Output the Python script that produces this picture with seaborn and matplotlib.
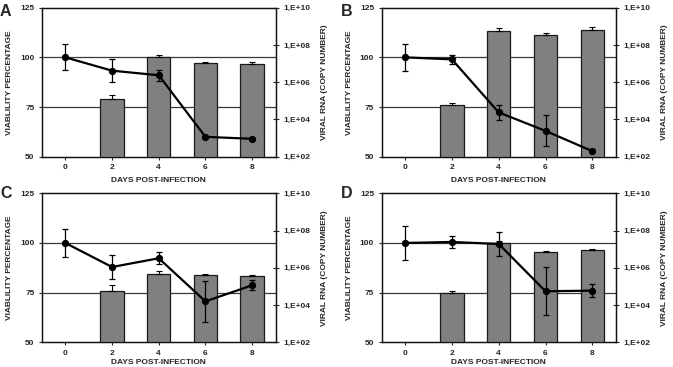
import numpy as np
import pandas as pd
import matplotlib
matplotlib.use("Agg")
import matplotlib.pyplot as plt
import seaborn as sns
from matplotlib.ticker import FixedLocator, FuncFormatter, NullLocator

# ---------------- data ----------------
days = [0, 2, 4, 6, 8]
day_labels = [str(d) for d in days]
panel_names = ["A", "B", "C", "D"]

# viability percentage (line, left axis) and SD
viab_A = [100, 93.3, 91.0, 60.0, 59.0]
viab_A_sd = [6.5, 5.8, 2.8, 0.6, 0.4]
viab_B = [100, 99.0, 72.3, 63.0, 52.8]
viab_B_sd = [6.9, 2.1, 3.6, 7.8, 0.5]
viab_C = [100, 87.9, 92.3, 70.6, 78.7]
viab_C_sd = [6.9, 6.0, 3.1, 10.2, 2.5]
viab_D = [100, 100.5, 99.5, 75.7, 76.0]
viab_D_sd = [8.5, 3.0, 6.0, 12.1, 3.2]

# viral RNA copy number (bars, right log axis) and upper error
rna_A = [np.nan, 1.33e5, 2.15e7, 1.08e7, 9.6e6]
rna_A_err = [np.nan, 8.0e4, 6.0e6, 1.8e6, 3.0e6]
rna_B = [np.nan, 5.9e4, 5.9e8, 3.46e8, 6.7e8]
rna_B_err = [np.nan, 1.3e4, 2.0e8, 1.2e8, 2.3e8]
rna_C = [np.nan, 5.9e4, 4.45e5, 4.34e5, 3.66e5]
rna_C_err = [np.nan, 5.6e4, 2.3e5, 2.0e4, 4.7e4]
rna_D = [np.nan, 4.64e4, 2.15e7, 6.8e6, 8.7e6]
rna_D_err = [np.nan, 1.3e4, 6.0e6, 9.0e5, 1.6e6]

left_ticks = [50, 75, 100, 125]
right_ticks = [1e2, 1e4, 1e6, 1e8, 1e10]
ylabel_left = "VIABLILITY PERCENTAGE"
ylabel_right = "VIRAL RNA (COPY NUMBER)"
xlabel = "DAYS POST-INFECTION"

panels = {
    "A": (viab_A, viab_A_sd, rna_A, rna_A_err),
    "B": (viab_B, viab_B_sd, rna_B, rna_B_err),
    "C": (viab_C, viab_C_sd, rna_C, rna_C_err),
    "D": (viab_D, viab_D_sd, rna_D, rna_D_err),
}

# ---------------- style ----------------
sns.set_style("ticks")
plt.rcParams["font.family"] = ["Liberation Sans", "DejaVu Sans"]
plt.rcParams["font.weight"] = "bold"
plt.rcParams["axes.labelweight"] = "bold"
FS = 6.0

W, H = 673, 367
fig = plt.figure(figsize=(W / 100, H / 100), dpi=100)
boxes = {
    "A": (42.0, 7.7, 275.5, 156.7),
    "B": (381.7, 7.7, 615.7, 156.7),
    "C": (42.0, 193.3, 275.5, 342.3),
    "D": (381.7, 193.3, 615.7, 342.3),
}
xlabel_pad = {"A": 4, "B": 4, "C": 1.5, "D": 1.5}
letter_pos = {"A": (0.0, 4.0), "B": (341.0, 4.0), "C": (0.0, 186.0), "D": (341.0, 186.0)}

positions = np.arange(len(days))
fmt_log = FuncFormatter(lambda v, p: "1,E+%02d" % int(round(np.log10(v))))

for name in panel_names:
    viab, viab_sd, rna, rna_err = panels[name]
    l, t, r, b = boxes[name]
    axL = fig.add_axes([l / W, 1 - b / H, (r - l) / W, (b - t) / H])
    axL.set_zorder(0)
    axL.set_ylim(left_ticks[0], left_ticks[-1])
    axL.set_yticks(left_ticks)
    for v in left_ticks[1:-1]:
        axL.axhline(v, color="#3a3a3a", lw=0.9, zorder=1)

    # bars on log axis
    axR = axL.twinx()
    axR.set_yscale("log")
    axR.set_ylim(right_ticks[0], right_ticks[-1])
    df = pd.DataFrame({"day": day_labels, "rna": rna, "err": rna_err}).dropna()
    sns.barplot(data=df, x="day", y="rna", order=day_labels, ax=axR,
                color="#808080", edgecolor="#1a1a1a", linewidth=0.9,
                width=0.5, errorbar=None, saturation=1)
    bar_pos = [day_labels.index(d) for d in df["day"]]
    axR.errorbar(bar_pos, df["rna"], yerr=[np.zeros(len(df)), df["err"]],
                 fmt="none", ecolor="black", elinewidth=0.8, capsize=2, capthick=0.8)
    axR.yaxis.set_major_locator(FixedLocator(right_ticks))
    axR.yaxis.set_minor_locator(NullLocator())
    axR.yaxis.set_major_formatter(fmt_log)
    axR.set_ylim(right_ticks[0], right_ticks[-1])
    axR.set_ylabel(ylabel_right, fontsize=FS, fontweight="bold", labelpad=8)
    axR.set_xlabel("")
    axR.tick_params(axis="y", direction="inout", length=4, width=0.8,
                    labelsize=FS, pad=3.5)

    # line on top
    axP = axL.twinx()
    axP.set_ylim(left_ticks[0], left_ticks[-1])
    axP.errorbar(positions, viab, yerr=viab_sd, fmt="none", ecolor="black",
                 elinewidth=0.9, capsize=2, capthick=0.9)
    sns.lineplot(x=positions, y=viab, ax=axP, color="black", marker="o",
                 markersize=4.5, markeredgecolor="black", linewidth=1.6)
    axP.axis("off")

    axL.set_xlim(-0.5, len(days) - 0.5)
    axL.set_xticks(positions)
    axL.set_xticklabels(day_labels)
    axL.set_xlabel(xlabel, fontsize=FS, fontweight="bold", labelpad=xlabel_pad[name])
    axL.set_ylabel(ylabel_left, fontsize=FS, fontweight="bold", labelpad=5)
    axL.tick_params(axis="both", direction="out", length=2.5, width=0.8,
                    labelsize=FS, pad=3)
    for ax in (axL, axR):
        for s in ax.spines.values():
            s.set_color("#111111")
            s.set_linewidth(0.9)
            s.set_visible(True)

    lx, ly = letter_pos[name]
    fig.text(lx / W, 1 - ly / H, name, fontsize=11.5, fontweight="bold",
             ha="left", va="top")

fig.savefig("out.png", dpi=100)
